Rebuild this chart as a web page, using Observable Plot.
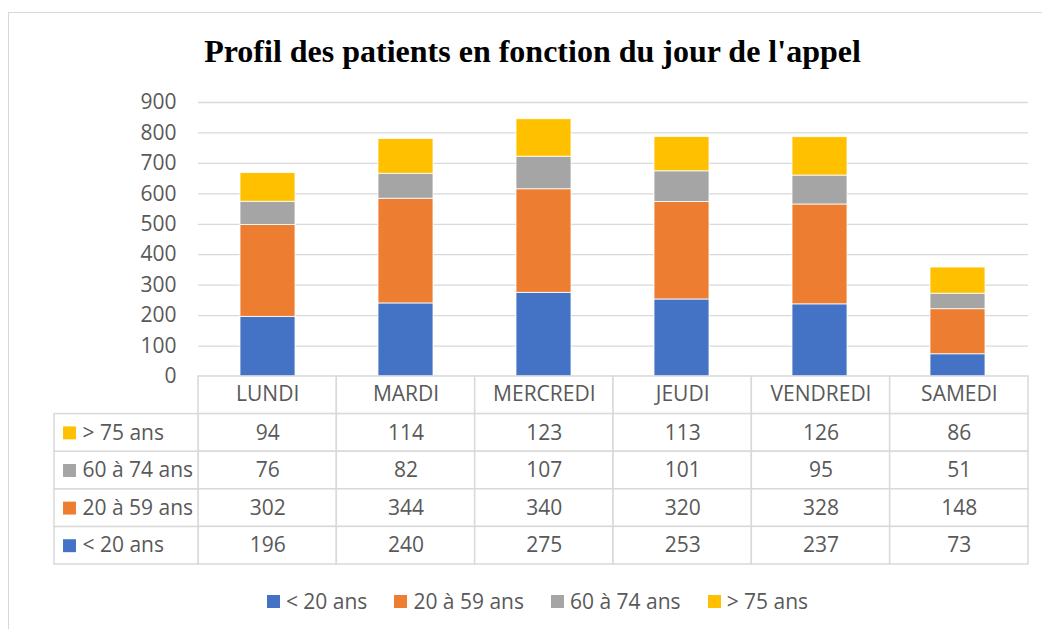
<!DOCTYPE html>
<html><head><meta charset="utf-8">
<script src="https://cdn.jsdelivr.net/npm/d3@7"></script>
<script src="https://cdn.jsdelivr.net/npm/@observablehq/plot@0.6"></script>
<style>
html,body{margin:0;padding:0;background:#fff;overflow:hidden;}
#root{position:relative;width:1042px;height:629px;overflow:hidden;font-family:"Open Sans",sans-serif;}
#frame{position:absolute;left:8px;top:12px;width:1100px;height:700px;border:1.5px solid #d9d9d9;box-sizing:border-box;}
#title{position:absolute;left:0;width:1065px;top:35px;line-height:32px;text-align:center;font-family:"Liberation Serif","Times New Roman",serif;font-weight:bold;font-size:32px;color:#000;white-space:nowrap;}
#chart{position:absolute;left:0;top:90px;}
#table{position:absolute;left:0;top:370px;}
#legend{position:absolute;left:0;width:1075px;top:588px;height:26px;display:flex;justify-content:center;align-items:center;gap:27px;font-size:21px;color:#595959;font-family:"Open Sans",sans-serif;}
#legend .item{display:flex;align-items:center;gap:6px;white-space:nowrap;}
#legend .sw{width:13px;height:13px;display:inline-block;}
</style>
</head><body>
<div id="root">
  <div id="frame"></div>
  <div id="title">Profil des patients en fonction du jour de l'appel</div>
  <div id="chart"></div>
  <div id="table"></div>
  <div id="legend"></div>
</div>
<script>
const days = ["LUNDI","MARDI","MERCREDI","JEUDI","VENDREDI","SAMEDI"];
const groups = ["< 20 ans","20 à 59 ans","60 à 74 ans","> 75 ans"];
const colors = ["#4472C4","#ED7D31","#A5A5A5","#FFC000"];
const under20 = [196,240,275,253,237,73];
const from20to59 = [302,344,340,320,328,148];
const from60to74 = [76,82,107,101,95,51];
const over75 = [94,114,123,113,126,86];
const yTicks = [0,100,200,300,400,500,600,700,800,900];

const series = [under20, from20to59, from60to74, over75];
const long = groups.flatMap((g, gi) => days.map((d, di) => ({day: d, group: g, value: series[gi][di]})));

const chart = Plot.plot({
  width: 1042, height: 290, marginTop: 12, marginBottom: 4, marginLeft: 198, marginRight: 14,
  style: {fontFamily: "Open Sans", fontSize: "21px", color: "#595959", background: "transparent", overflow: "visible"},
  x: {domain: days, paddingInner: 0.6, paddingOuter: 0.3, axis: null},
  y: {domain: [0, 900], axis: null, label: null},
  color: {domain: groups, range: colors},
  marks: [
    Plot.gridY(yTicks, {stroke: "#d9d9d9", strokeOpacity: 1, strokeWidth: 1.3}),
    Plot.axisY(yTicks, {tickSize: 0, tickPadding: 22, fill: "#595959", fontSize: 21, label: null, tickFormat: d => String(d)}),
    Plot.barY(long, {x: "day", y: "value", fill: "group", order: groups, stroke: "white", strokeWidth: 0.8})
  ]
});
document.getElementById("chart").appendChild(chart);

// table
const labelW = 144 / 138.333;
const dayCells = [];
for (let r = 0; r < 5; r++) days.forEach((d, di) => dayCells.push({c: di, r}));
const labelCells = groups.map((g, gi) => ({r: 4 - gi, g, color: colors[gi]}));
const valueCells = long.map(d => ({c: days.indexOf(d.day), r: 4 - groups.indexOf(d.group), v: d.value}));
const headerCells = days.map((d, di) => ({c: di, d}));

const table = Plot.plot({
  width: 1042, height: 200, marginTop: 6, marginBottom: 6, marginLeft: 54, marginRight: 14,
  style: {fontFamily: "Open Sans", fontSize: "21px", color: "#595959", background: "transparent", overflow: "visible"},
  x: {type: "linear", domain: [-labelW, 6], axis: null},
  y: {type: "linear", domain: [0, 5], reverse: true, axis: null},
  marks: [
    Plot.rect(dayCells, {x1: "c", x2: d => d.c + 1, y1: "r", y2: d => d.r + 1, fill: "white", stroke: "#d9d9d9", strokeWidth: 1.5}),
    Plot.rect(labelCells, {x1: -labelW, x2: 0, y1: "r", y2: d => d.r + 1, fill: "white", stroke: "#d9d9d9", strokeWidth: 1.5}),
    Plot.text(headerCells, {x: d => d.c + 0.5, y: 0.5, dy: -1, text: "d", fill: "#595959", fontSize: 21}),
    Plot.text(valueCells, {x: d => d.c + 0.5, y: d => d.r + 0.5, text: d => String(d.v), fill: "#595959", fontSize: 21}),
    Plot.dot(labelCells, {x: -labelW, y: d => d.r + 0.5, dx: 15, symbol: "square", r: 7.3, fill: "color", stroke: null}),
    Plot.text(labelCells, {x: -labelW, y: d => d.r + 0.5, dx: 28, text: "g", textAnchor: "start", fill: "#595959", fontSize: 21})
  ]
});
document.getElementById("table").appendChild(table);

// legend
const legend = d3.select("#legend");
groups.forEach((g, gi) => {
  const item = legend.append("div").attr("class", "item");
  item.append("span").attr("class", "sw").style("background", colors[gi]);
  item.append("span").text(g);
});
</script>
</body></html>
